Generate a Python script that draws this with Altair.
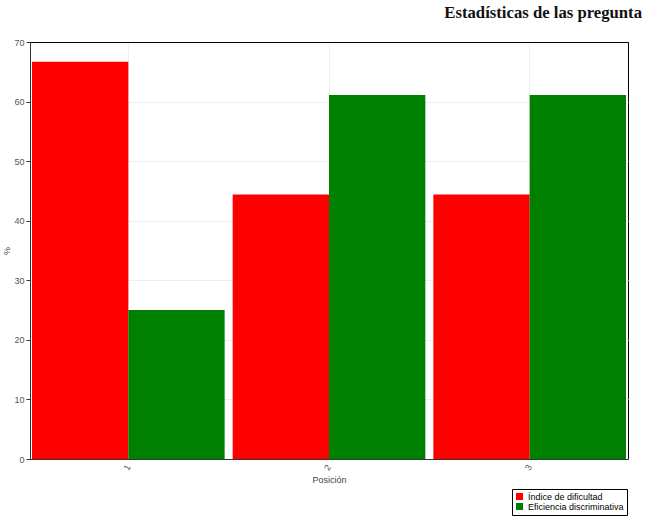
import altair as alt
import pandas as pd

posiciones = ["1", "2", "3"]
series = ["Índice de dificultad", "Eficiencia discriminativa"]
indice = [66.7, 44.4, 44.4]
eficiencia = [25.0, 61.1, 61.1]
colores = ["#ff0000", "#008000"]

rows = []
for p, a, b in zip(posiciones, indice, eficiencia):
    rows.append({"Posición": p, "serie": series[0], "valor": a})
    rows.append({"Posición": p, "serie": series[1], "valor": b})
df = pd.DataFrame(rows)

chart = alt.Chart(df).mark_bar().encode(
    x=alt.X("Posición:N", sort=posiciones,
            scale=alt.Scale(paddingInner=0.04, paddingOuter=0.01),
            axis=alt.Axis(title="Posición", labelAngle=300, ticks=False,
                          grid=True, bandPosition=0.5, gridColor="#eeeeee",
                          labelFontSize=9, titleFontSize=9, labelColor="#555555",
                          titleColor="#444444", titleFontWeight="normal",
                          domainColor="#333333", titlePadding=4, labelPadding=6)),
    xOffset=alt.XOffset("serie:N", sort=series),
    y=alt.Y("valor:Q", scale=alt.Scale(domain=[0, 70]),
            axis=alt.Axis(title="%", values=[0, 10, 20, 30, 40, 50, 60, 70],
                          gridColor={"condition": {"test": "datum.value === 70", "value": "#000000"},
                                     "value": "#eeeeee"},
                          labelFontSize=9, titleFontSize=9,
                          labelColor="#555555", titleColor="#444444",
                          titleFontWeight="normal", domainColor="#333333",
                          tickColor="#333333", tickSize=4, titlePadding=2)),
    color=alt.Color("serie:N", sort=series,
                    scale=alt.Scale(domain=series, range=colores),
                    legend=alt.Legend(title=None, orient="none", legendX=482, legendY=447,
                                      symbolType="square", symbolSize=50,
                                      labelFontSize=9, labelColor="#000000",
                                      strokeColor="#000000", padding=3,
                                      rowPadding=0, labelOffset=4,
                                      fillColor="#ffffff")),
).properties(
    width=598, height=417,
    title=alt.Title("Estadísticas de las pregunta", anchor="end", dx=14,
                    font="Liberation Serif", fontSize=16.7, fontWeight="bold",
                    color="#111111", offset=16),
    autosize=alt.AutoSizeParams(type="none"),
    padding={"left": 30, "top": 42, "right": 27, "bottom": 67},
).configure_view(stroke="#000000", strokeWidth=1).configure_axis(
    labelFont="Liberation Sans", titleFont="Liberation Sans"
).configure_legend(labelFont="Liberation Sans")

chart.save("out.html", embed_options={"renderer": "svg", "actions": False})
